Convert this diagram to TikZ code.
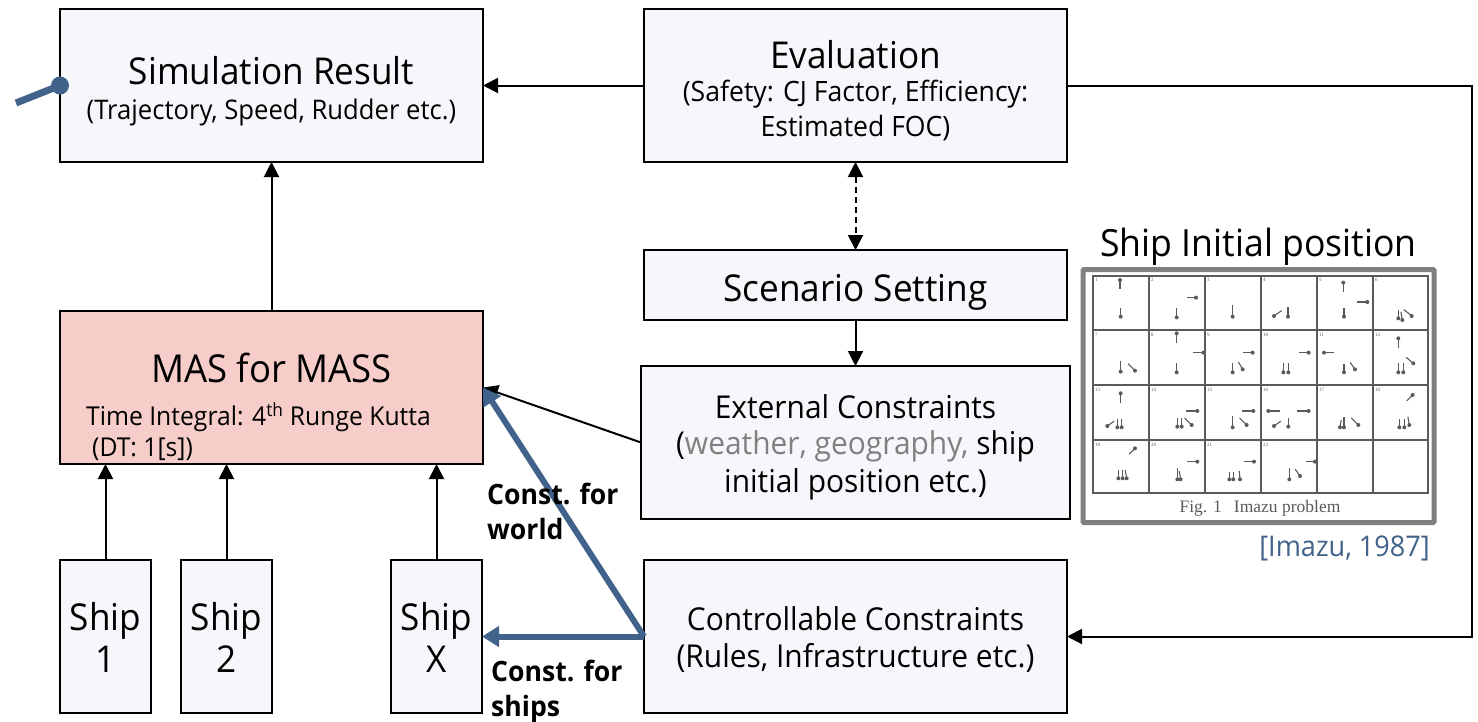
\documentclass[tikz,border=0pt]{standalone}
\usepackage{fontspec}
\setmainfont{Open Sans}[FakeStretch=0.95]
\newfontfamily\figfont{Liberation Serif}
\usepackage{tikz}
\usetikzlibrary{arrows.meta,positioning}
\definecolor{boxfill}{HTML}{F6F7FA}
\definecolor{masfill}{HTML}{F6CDC9}
\definecolor{constblue}{HTML}{41628A}
\definecolor{framegray}{HTML}{808080}
\definecolor{figgray}{HTML}{5A5A5A}
\newcommand{\bigtext}{\fontsize{37}{40}\selectfont}
\newcommand{\subtext}{\fontsize{28}{37}\selectfont}
\newcommand{\midtext}{\fontsize{31.5}{38}\selectfont}
\newcommand{\topgap}[1]{\rule{0pt}{#1pt}}
\tikzset{
    mybox/.style={rectangle,draw=black,fill=boxfill,line width=2pt,inner sep=0pt,outer sep=0pt,minimum width=423pt,minimum height=153pt,align=center},
    shipbox/.style={mybox,minimum width=91pt},
    myarrow/.style={-{Triangle[length=15pt,width=15pt]},line width=2pt},
    bluearrow/.style={-{Triangle[length=17pt,width=20pt]},draw=constblue,line width=6pt},
    mylabel/.style={font=\fontsize{28}{35}\selectfont\bfseries,align=left,inner sep=0pt,anchor=north west}
}
\begin{document}
\begin{tikzpicture}[x=1pt,y=1pt]
\useasboundingbox (0,0) rectangle (1478,-721);
\node[mybox] (result) at (271.5,-85.5) {\bigtext\topgap{40}Simulation Result\\[13pt]\fontsize{27}{30}\selectfont (Trajectory, Speed, Rudder etc.)};
\node[mybox, right=161pt of result] (evaluation) {\bigtext\topgap{38}Evaluation\\[10pt]\subtext (Safety: CJ Factor, Efficiency:\\[6pt]\subtext Estimated FOC)};
\node[mybox, below=88pt of evaluation, minimum height=70pt] (scenario) {\bigtext\topgap{42}Scenario Setting};
\node[mybox, below=46pt of scenario, minimum width=429pt] (external) {\midtext\topgap{34}External Constraints\\[10pt]\midtext (\textcolor{gray}{weather, geography,} ship\\[6pt]\midtext initial position etc.)};
\node[mybox, below=41pt of external] (control) {\midtext\topgap{30}Controllable Constraints\\[12pt]\midtext (Rules, Infrastructure etc.)};
\node[mybox, below=149pt of result, fill=masfill] (mas) {};
\node[shipbox, below right=96pt and 0pt of mas.south west] (ship1) {\bigtext\topgap{30}Ship\\[6pt]\bigtext 1};
\node[shipbox, right=30pt of ship1] (ship2) {\bigtext\topgap{30}Ship\\[6pt]\bigtext 2};
\node[shipbox, right=119pt of ship2] (shipx) {\bigtext\topgap{30}Ship\\[6pt]\bigtext X};

% text of the red box
\node[inner sep=0pt] (mastitle) at (271.5,-368) {\fontsize{38.5}{40}\selectfont MAS for MASS};
\node[inner sep=0pt, anchor=west] (masstep) at (86,-417) {\fontsize{26}{30}\selectfont Time Integral: 4\textsuperscript{th} Runge Kutta};
\node[inner sep=0pt, anchor=west] (masdt) at (92,-449) {\fontsize{26}{30}\selectfont (DT: 1[s])};

\draw[myarrow] (mas.north) -- (result.south);
\draw[myarrow] (evaluation.west) -- (result.east);
\draw[myarrow, dash pattern=on 6pt off 4pt, {Triangle[length=15pt,width=15pt]}-{Triangle[length=15pt,width=15pt]}] (evaluation.south) -- (scenario.north);
\draw[myarrow] (scenario.south) -- (external.north);
\draw[myarrow] (external.west) -- (mas.east);
\draw[myarrow] (evaluation.east) -- ++(405,0) |- (control.east);
\draw[myarrow] (ship1.north) -- (ship1.north |- mas.south);
\draw[myarrow] (ship2.north) -- (ship2.north |- mas.south);
\draw[myarrow] (shipx.north) -- (shipx.north |- mas.south);
\draw[bluearrow] (control.west) -- (mas.east);
\draw[bluearrow] (control.west) -- (shipx.east);

\node[mylabel] (worldlabel) at (487,-483) {Const. for\\world};
\node[mylabel] (shipslabel) at (491,-660) {Const. for\\ships};

% pointer on the first box
\node[circle, fill=constblue, inner sep=0pt, minimum size=18pt] (pointer) at (result.west) {};
\coordinate (pointertail) at (16,-103);
\draw[constblue, line width=7pt] (pointer.center) -- (pointertail);

% Imazu figure
\node[inner sep=0pt, anchor=base] (figtitle) at (1258.5,-256) {\fontsize{37.5}{40}\selectfont Ship Initial position};
\node[rectangle, draw=framegray, line width=5pt, rounded corners=1pt, minimum width=351pt, minimum height=253pt, inner sep=0pt, below=11pt of figtitle.base] (figframe) {};
\node[inner sep=0pt, text=constblue, anchor=east] (figcite) at (1430,-548) {\fontsize{28.5}{30}\selectfont [Imazu, 1987]};
\node[inner sep=0pt, text=figgray] (figcaption) at (1260,-508) {\figfont\fontsize{17.5}{18}\selectfont Fig. 1\hspace{12pt}Imazu problem};
\draw[figgray, line width=1.2pt] (1093,-276) rectangle (1428,-493);
\foreach \gridx in {1149,1205,1261,1317,1373}
    \draw[figgray, line width=1.2pt] (\gridx,-276) -- (\gridx,-493);
\foreach \gridy in {330,385,440}
    \draw[figgray, line width=1.2pt] (1093,-\gridy) -- (1428,-\gridy);
\foreach \col in {0,...,5}
    \foreach \row in {0,...,3} {
        \pgfmathtruncatemacro{\cellno}{\row*6+\col+1}
        \ifnum\cellno<23
            \node[inner sep=0pt, anchor=north west, text=figgray, font=\figfont\fontsize{5}{6}\selectfont] at (1095+\col*56,-278-\row*55) {\cellno};
        \fi
    }
\begin{scope}[shift={(1070,-220)},x=0.3333pt,y=0.3333pt]
\foreach \sx/\sy/\sa/\sl in {152/290/90/25,150/180/-90/28,320/292/90/28,378/233/180/28,488/290/90/35,654/290/90/28,612/288/35/28,
    822/290/90/25,820/188/-90/28,892/246/180/30,985/295/90/25,997/300/100/25,1025/288/140/30,
    152/455/90/32,195/452/135/30,320/457/90/28,320/340/-90/28,400/398/180/30,488/457/90/28,518/448/120/25,548/398/180/30,
    640/457/90/28,655/457/90/28,716/398/180/30,822/457/90/25,855/448/125/25,762/398/0/30,
    985/457/90/28,1000/457/90/28,1030/430/140/28,985/355/-90/30,
    152/520/-90/28,112/618/35/25,142/622/90/25,155/622/90/25,322/620/90/25,335/620/90/25,365/615/135/30,382/573/180/35,
    488/622/90/35,530/615/135/30,550/573/180/35,655/620/90/25,612/618/35/25,595/573/0/35,716/573/180/35,
    822/622/90/30,810/622/80/22,865/615/135/30,988/622/90/25,1003/622/90/25,1018/615/100/25,1028/525/225/25,
    195/685/225/25,145/775/90/25,158/775/90/25,170/775/100/25,322/778/90/35,332/778/100/25,382/725/180/30,
    478/778/90/22,490/778/90/22,510/778/95/25,552/725/180/30,658/778/90/35,690/768/125/25,735/725/180/28} {
    \fill[figgray] (\sx,-\sy) circle (6);
    \draw[figgray, line width=1.1pt] (\sx,-\sy) -- ++(\sa:\sl);
}
\end{scope}
\end{tikzpicture}
\end{document}
